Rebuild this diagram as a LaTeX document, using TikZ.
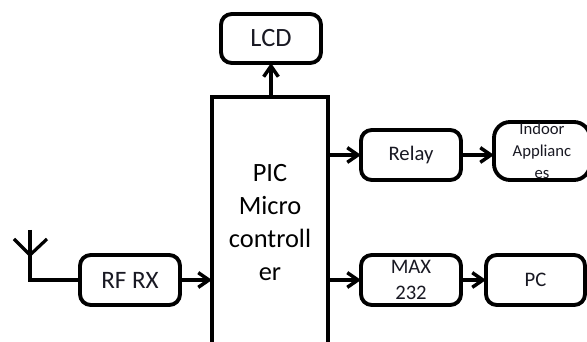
\documentclass[tikz,border=0pt]{standalone}
\usepackage{fontspec}
\setmainfont{Carlito}
\usetikzlibrary{arrows.meta}
\definecolor{inkc}{RGB}{25,25,35}
\tikzset{
  x=0.75pt,y=-0.75pt,
  blockbox/.style={draw=black,line width=2.9pt,rounded corners=8pt,fill=white,text=inkc,inner sep=0pt,outer sep=0pt,align=center,anchor=north west},
  sharpbox/.style={draw=black,line width=2.9pt,fill=white,text=black,inner sep=0pt,outer sep=0pt,align=center,anchor=north west},
  link/.style={draw=black,line width=2.6pt,-{Straight Barb[length=8pt,width=11pt,line width=2.6pt]}},
  wire/.style={draw=black,line width=2.4pt},
  big/.style={font=\fontsize{19.8}{24.75}\selectfont},
  rfsize/.style={font=\fontsize{18.8}{24}\selectfont},
  mid/.style={font=\fontsize{15.5}{19}\selectfont},
  small/.style={font=\fontsize{12.5}{16.5}\selectfont},
}
\begin{document}
\begin{tikzpicture}
\useasboundingbox (0,0) rectangle (587,342);
\clip (0,0) rectangle (587,342);
\node[blockbox,big,minimum width=75pt,minimum height=36.75pt] (lcd) at (221,14) {LCD};
\node[sharpbox,big,minimum width=87pt,minimum height=189pt] (pic) at (212,97) {PIC\\Micro\\controll\\er};
\node[blockbox,mid,minimum width=75pt,minimum height=37.5pt] (relay) at (361,130) {Relay};
\node[blockbox,small,rounded corners=12pt,minimum width=72pt,minimum height=43.5pt] (app) at (494,122) {Indoor\\Applianc\\es};
\node[blockbox,mid,minimum width=75pt,minimum height=37.5pt] (max) at (361,255) {MAX\\232};
\node[blockbox,mid,minimum width=74.25pt,minimum height=37.5pt] (pc) at (486,255) {PC};
\node[blockbox,rfsize,minimum width=75pt,minimum height=37.5pt] (rf) at (80,255) {RF RX};
\coordinate (anttop) at (30,230);
\coordinate (antfoot) at (30,280);
\coordinate (antjoin) at (30,255);
\coordinate (antl) at (14,239);
\coordinate (antr) at (47,239);
\draw[wire] (anttop) -- (antfoot) -- (rf.west |- antfoot);
\draw[wire] (antl) -- (antjoin) -- (antr);
\coordinate (picl) at (pic.west |- antfoot);
\coordinate (picr2) at (pic.east |- antfoot);
\coordinate (picr1) at (pic.east |- relay.west);
\coordinate (pict) at (lcd.south |- pic.north);
\draw[link] (rf.east |- antfoot) -- (picl);
\draw[link] (pict) -- (lcd.south);
\draw[link] (picr1) -- (relay.west);
\draw[link] (picr2) -- (max.west);
\draw[link] (relay.east) -- (app.west |- relay.east);
\draw[link] (max.east) -- (pc.west);
\end{tikzpicture}
\end{document}
